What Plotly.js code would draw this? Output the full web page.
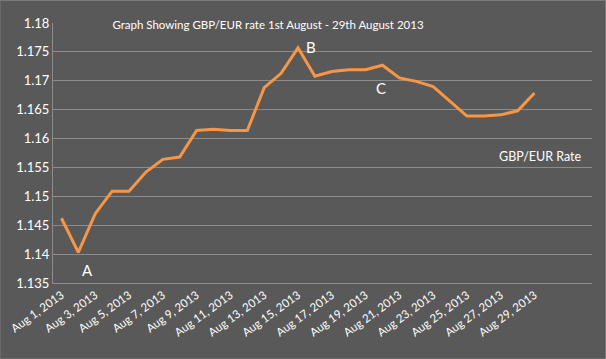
<!DOCTYPE html>
<html>
<head>
<meta charset="utf-8">
<script src="https://cdn.plot.ly/plotly-3.0.1.min.js"></script>
<style>html,body{margin:0;padding:0;background:#595959;}#chart{width:606px;height:359px;}</style>
</head>
<body>
<div id="chart"></div>
<script>
const dates = ["Aug 1, 2013","Aug 2, 2013","Aug 3, 2013","Aug 4, 2013","Aug 5, 2013","Aug 6, 2013","Aug 7, 2013","Aug 8, 2013","Aug 9, 2013","Aug 10, 2013","Aug 11, 2013","Aug 12, 2013","Aug 13, 2013","Aug 14, 2013","Aug 15, 2013","Aug 16, 2013","Aug 17, 2013","Aug 18, 2013","Aug 19, 2013","Aug 20, 2013","Aug 21, 2013","Aug 22, 2013","Aug 23, 2013","Aug 24, 2013","Aug 25, 2013","Aug 26, 2013","Aug 27, 2013","Aug 28, 2013","Aug 29, 2013"];
const rates = [1.1462,1.1403,1.1470,1.1509,1.1509,1.1542,1.1564,1.1568,1.1614,1.1616,1.1614,1.1614,1.1688,1.1713,1.1757,1.1708,1.1716,1.1719,1.1719,1.1727,1.1705,1.1699,1.1690,1.1664,1.1639,1.1639,1.1641,1.1648,1.1679];
const tickLabels = dates.filter((d, i) => i % 2 === 0);
const yTicks = [1.135,1.14,1.145,1.15,1.155,1.16,1.165,1.17,1.175,1.18];
const yTickText = ["1.135","1.14","1.145","1.15","1.155","1.16","1.165","1.17","1.175","1.18"];
const seriesName = "GBP/EUR Rate";
const titleText = "Graph Showing GBP/EUR rate 1st August - 29th August 2013";
const markLabels = [{t:"A", d:"Aug 2, 2013", v:1.1403}, {t:"B", d:"Aug 15, 2013", v:1.1757}, {t:"C", d:"Aug 20, 2013", v:1.1727}];

const font = "Lato, 'Open Sans', sans-serif";
const trace = {
  x: dates, y: rates, type: "scatter", mode: "lines", name: seriesName,
  line: {color: "#F79646", width: 3}, hoverinfo: "x+y"
};
const layout = {
  width: 606, height: 359,
  paper_bgcolor: "#595959", plot_bgcolor: "#595959",
  margin: {l: 53, r: 14, t: 23, b: 76, pad: 0},
  showlegend: false,
  font: {family: font, color: "#FFFFFF", size: 12},
  title: {text: titleText, font: {family: font, size: 11.5, color: "#FFFFFF"}, x: 268/606, xanchor: "center", y: 0.93, yanchor: "middle", yref: "container"},
  xaxis: {
    type: "category", range: [-0.5, 31.4],
    tickmode: "array", tickvals: tickLabels, ticktext: tickLabels,
    tickangle: -36, showgrid: false, showline: true, linecolor: "#8C8C8C", linewidth: 1,
    ticks: "", tickfont: {family: font, size: 11.5, color: "#FFFFFF"}, zeroline: false
  },
  yaxis: {
    range: [1.135, 1.18], tickmode: "array", tickvals: yTicks, ticktext: yTickText,
    showgrid: true, gridcolor: "#8C8C8C", gridwidth: 1, showline: true, linecolor: "#8C8C8C",
    ticks: "", ticklen: 0, tickfont: {family: font, size: 13, color: "#FFFFFF"}, zeroline: false
  },
  annotations: [
    {text: markLabels[0].t, x: markLabels[0].d, y: markLabels[0].v, xref: "x", yref: "y", showarrow: false, xshift: 9, yshift: -18, font: {family: font, size: 15, color: "#FFFFFF"}},
    {text: markLabels[1].t, x: markLabels[1].d, y: markLabels[1].v, xref: "x", yref: "y", showarrow: false, xshift: 13, yshift: 1, font: {family: font, size: 15, color: "#FFFFFF"}},
    {text: markLabels[2].t, x: markLabels[2].d, y: markLabels[2].v, xref: "x", yref: "y", showarrow: false, xshift: -1, yshift: -23, font: {family: font, size: 15, color: "#FFFFFF"}},
    {text: seriesName, xref: "paper", yref: "paper", x: 0.985, y: 0.486, xanchor: "right", yanchor: "middle", showarrow: false, font: {family: font, size: 12.5, color: "#FFFFFF"}}
  ],
  shapes: [
    {type: "rect", xref: "paper", yref: "paper", x0: -53/539, x1: 1 + 13.5/539, y0: -76/260, y1: 1 + 22.5/260, line: {color: "#7a7a7a", width: 1}, fillcolor: "rgba(0,0,0,0)", layer: "below"}
  ]
};
Plotly.newPlot("chart", [trace], layout, {displayModeBar: false, staticPlot: true});
</script>
</body>
</html>
